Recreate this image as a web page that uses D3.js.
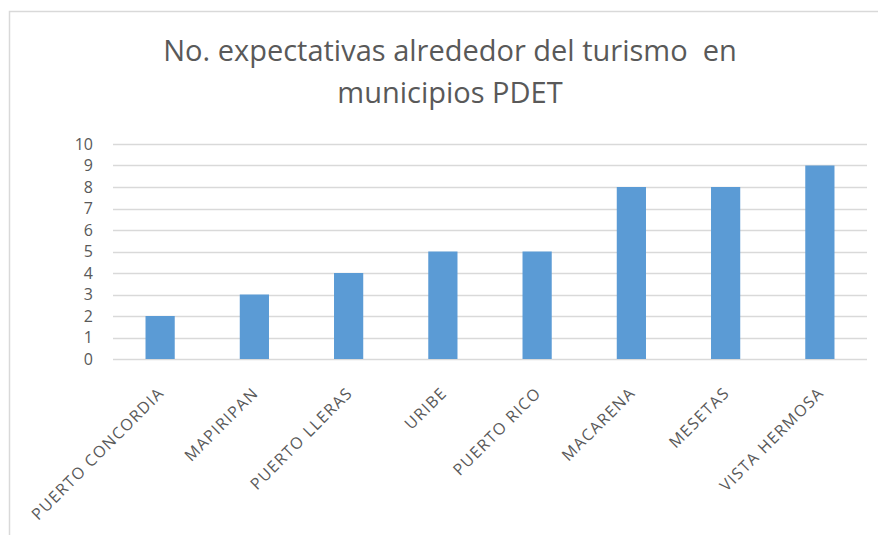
<!DOCTYPE html>
<html>
<head>
<meta charset="utf-8">
<script src="https://cdn.jsdelivr.net/npm/d3@7"></script>
<style>
  body { margin: 0; background: #fff; }
  text { font-family: "Open Sans", "Liberation Sans", sans-serif; fill: #595959; }
</style>
</head>
<body>
<div id="chart"></div>
<script>
var municipios = ["PUERTO CONCORDIA", "MAPIRIPAN", "PUERTO LLERAS", "URIBE", "PUERTO RICO", "MACARENA", "MESETAS", "VISTA HERMOSA"];
var expectativas = [2, 3, 4, 5, 5, 8, 8, 9];
var yTicks = [0, 1, 2, 3, 4, 5, 6, 7, 8, 9, 10];
var titleLines = ["No. expectativas alrededor del turismo  en", "municipios PDET"];

var width = 878, height = 535;
var margin = {top: 144, right: 11, bottom: 176, left: 113};
var plotW = width - margin.left - margin.right;
var plotH = height - margin.top - margin.bottom;

var svg = d3.select("#chart").append("svg")
    .attr("width", width)
    .attr("height", height);

// chart frame
svg.append("rect")
    .attr("x", 9.5).attr("y", 11.5)
    .attr("width", width + 10).attr("height", height + 10)
    .attr("fill", "none")
    .attr("stroke", "#d9d9d9")
    .attr("stroke-width", 1.5);

// title
svg.append("g").selectAll("text")
    .data(titleLines)
    .enter().append("text")
    .attr("x", 450)
    .attr("y", function(d, i) { return 61 + i * 42; })
    .attr("text-anchor", "middle")
    .style("font-size", "29px")
    .style("white-space", "pre")
    .text(function(d) { return d; });

var g = svg.append("g")
    .attr("transform", "translate(" + margin.left + "," + margin.top + ")");

var x = d3.scaleBand()
    .domain(municipios)
    .range([0, plotW])
    .paddingInner(0.69)
    .paddingOuter(0.345);

var y = d3.scaleLinear()
    .domain([0, 10])
    .range([plotH, 0]);

// gridlines
g.append("g").selectAll("line")
    .data(yTicks)
    .enter().append("line")
    .attr("x1", 0).attr("x2", plotW)
    .attr("y1", function(d) { return Math.round(y(d)) + 0.5; })
    .attr("y2", function(d) { return Math.round(y(d)) + 0.5; })
    .attr("stroke", "#d9d9d9")
    .attr("stroke-width", 1.5);

// y axis labels
var yAxis = d3.axisLeft(y).tickValues(yTicks).tickSize(0).tickPadding(20);
g.append("g")
    .call(yAxis)
    .call(function(s) { s.select(".domain").remove(); })
    .selectAll("text")
    .style("font-size", "16px")
    .attr("fill", "#595959");

// bars
g.selectAll("rect.bar")
    .data(expectativas)
    .enter().append("rect")
    .attr("class", "bar")
    .attr("x", function(d, i) { return x(municipios[i]); })
    .attr("width", x.bandwidth())
    .attr("y", function(d) { return y(d); })
    .attr("height", function(d) { return plotH - y(d); })
    .attr("fill", "#5b9bd5");

// x axis labels
var xAxis = d3.axisBottom(x).tickSize(0).tickPadding(0);
var xg = g.append("g")
    .attr("transform", "translate(0," + plotH + ")")
    .call(xAxis);
xg.select(".domain").remove();
xg.selectAll("text")
    .style("font-size", "16px")
    .style("letter-spacing", "1.3px")
    .attr("fill", "#595959")
    .attr("text-anchor", "end")
    .attr("dy", "0")
    .attr("transform", "translate(5,35) rotate(-45)");
</script>
</body>
</html>
